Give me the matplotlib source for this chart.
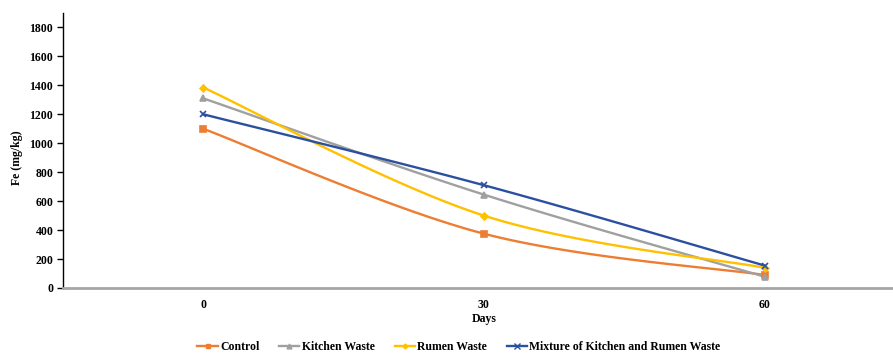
import numpy as np
import matplotlib.pyplot as plt

days = ["0", "30", "60"]
control = [1100, 375, 90]
kitchen = [1310, 645, 78]
rumen = [1385, 500, 140]
mixture = [1200, 710, 155]

series = [
    ("Control", control, "#ED7D31", "s", 4.5),
    ("Kitchen Waste", kitchen, "#A0A0A0", "^", 4.5),
    ("Rumen Waste", rumen, "#FFC000", "D", 3.5),
    ("Mixture of Kitchen and Rumen Waste", mixture, "#2B50A0", "x", 5),
]

plt.rcParams['font.family'] = ['Liberation Serif', 'DejaVu Serif']
plt.rcParams['font.weight'] = 'bold'
fs = 8.5


def smooth(x, y, n=60):
    # cubic bezier through the points, same idea as a spreadsheet "smoothed line"
    x = np.asarray(x, float)
    y = np.asarray(y, float)
    px = np.concatenate([[x[0]], x, [x[-1]]])
    py = np.concatenate([[y[0]], y, [y[-1]]])
    xs, ys = [], []
    t = np.linspace(0, 1, n)
    for i in range(len(x) - 1):
        p0 = np.array([x[i], y[i]])
        p3 = np.array([x[i + 1], y[i + 1]])
        p1 = p0 + (np.array([px[i + 2], py[i + 2]]) - np.array([px[i], py[i]])) / 6
        p2 = p3 - (np.array([px[i + 3], py[i + 3]]) - np.array([px[i + 1], py[i + 1]])) / 6
        b = ((1 - t) ** 3)[:, None] * p0 + (3 * (1 - t) ** 2 * t)[:, None] * p1 \
            + (3 * (1 - t) * t ** 2)[:, None] * p2 + (t ** 3)[:, None] * p3
        xs.append(b[:, 0])
        ys.append(b[:, 1])
    return np.concatenate(xs), np.concatenate(ys)


fig = plt.figure(figsize=(8.93, 3.53), dpi=100)
ax = fig.add_axes([63 / 893, 1 - 288 / 353, (905 - 63) / 893, (288 - 13) / 353])

xi = np.arange(len(days))
handles = []
for name, vals, col, mk, ms in series:
    sx, sy = smooth(xi, vals)
    ax.plot(sx, sy, color=col, lw=1.7, zorder=2)
    ax.plot(xi, vals, ls="none", marker=mk, color=col, ms=ms, mew=1.2, zorder=3)
    h, = ax.plot([], [], color=col, lw=1.7, marker=mk, ms=ms - 1, mew=1.0, label=name)
    handles.append(h)

ax.set_xlim(-0.5, 2.5)
ax.set_ylim(0, 1900)
ax.set_yticks(np.arange(0, 1801, 200))
ax.set_xticks(xi)
ax.set_xticklabels(days)
ax.tick_params(axis="y", direction="out", length=4, width=1, labelsize=fs, pad=3)
ax.tick_params(axis="x", length=0, labelsize=fs, pad=8)
for lab in ax.get_xticklabels() + ax.get_yticklabels():
    lab.set_fontweight("bold")

ax.spines["top"].set_visible(False)
ax.spines["right"].set_visible(False)
ax.spines["left"].set_color("black")
ax.spines["left"].set_linewidth(1.0)
ax.spines["bottom"].set_color("#A6A6A6")
ax.spines["bottom"].set_linewidth(2.0)

ax.set_ylabel("Fe (mg/kg)", fontsize=fs, fontweight="bold")
ax.yaxis.set_label_coords(-0.047, 0.473)
ax.set_xlabel("Days", fontsize=fs, fontweight="bold", labelpad=1.5)

fig.legend(handles=handles, loc="center", bbox_to_anchor=(459 / 893, 1 - 347 / 353),
           ncol=4, frameon=False, handlelength=1.7, handletextpad=0.2,
           columnspacing=1.7, prop={"weight": "bold", "size": fs})

fig.savefig("out.png", dpi=100)
